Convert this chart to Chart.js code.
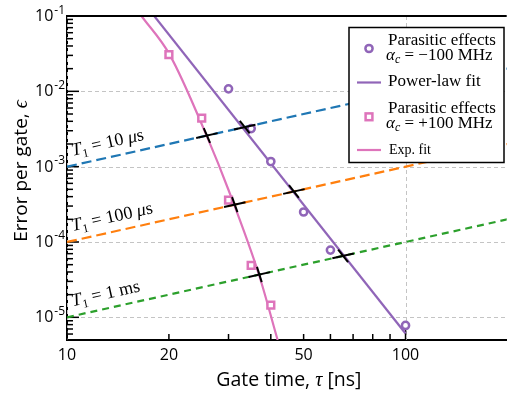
<!DOCTYPE html>
<html>
<head>
<meta charset="utf-8">
<script src="https://cdn.jsdelivr.net/npm/chart.js@4.4.0/dist/chart.umd.min.js"></script>
<style>
html, body { margin: 0; padding: 0; background: #fff; overflow: hidden; }
#wrap { width: 514px; height: 397px; position: relative; }
</style>
</head>
<body>
<div id="wrap"><canvas id="grafico"></canvas></div>
<script>
// pontos simulados
const tempoNeg = [30, 35, 40, 50, 60, 100];
const erroNeg = [1.08e-2, 3.2e-3, 1.17e-3, 2.5e-4, 7.8e-5, 7.8e-6];
const tempoPos = [20, 25, 30, 35, 40];
const erroPos = [3.07e-2, 4.4e-3, 3.6e-4, 4.9e-5, 1.45e-5];

// ajustes
const tempoPotencia = [18.1, 100];
const erroPotencia = [0.1, 6.1e-6];
const tempoExp = [16.6, 20.1, 25.9, 30.0, 37.0, 41.9];
const erroExp = [0.1, 3.07e-2, 2.52e-3, 4.9e-4, 3.54e-5, 5e-6];

// limites de T1
const tempoT1 = [10, 200];
const erroT1_10us = [1e-3, 2e-2];
const erroT1_100us = [1e-4, 2e-3];
const erroT1_1ms = [1e-5, 2e-4];

// cruzamentos (marcas pretas)
const cruzTempo = [25.9, 33.5, 31.3, 46.8, 37.0, 65.4];
const cruzErro = [2.59e-3, 3.35e-3, 3.13e-4, 4.68e-4, 3.7e-5, 6.54e-5];
const cruzInclinacao = [-10.5, -5.7, -12.5, -5.7, -14.5, -5.7];

// eixos
const ticksX = [10, 20, 50, 100];
const ticksY = [1e-5, 1e-4, 1e-3, 1e-2, 1e-1];
const expoentesY = ['-5', '-4', '-3', '-2', '-1'];

const roxo = '#9065b8';
const rosa = '#de74bb';
const azul = '#1f77b4';
const laranja = '#ff7f0e';
const verde = '#2ca02c';

const sans = "'Open Sans', 'DejaVu Sans', sans-serif";
const serif = "'Liberation Serif', 'DejaVu Serif', serif";

function pares(xs, ys) {
    return xs.map((x, i) => ({ x: x, y: ys[i] }));
}

function escreveTrechos(ctx, trechos, x, y, alinhar) {
    let largura = 0;
    trechos.forEach(t => { ctx.font = t[1]; largura += ctx.measureText(t[0]).width; });
    let cx = x;
    if (alinhar === 'center') cx = x - largura / 2;
    if (alinhar === 'right') cx = x - largura;
    ctx.textAlign = 'left';
    ctx.textBaseline = 'alphabetic';
    trechos.forEach(t => {
        ctx.font = t[1];
        ctx.fillText(t[0], cx, y + (t[2] || 0));
        cx += ctx.measureText(t[0]).width;
    });
}

function linha(ctx, x1, y1, x2, y2) {
    ctx.beginPath();
    ctx.moveTo(x1, y1);
    ctx.lineTo(x2, y2);
    ctx.stroke();
}

// grade, ticks para dentro e rótulos
const eixosPlugin = {
    id: 'eixos',
    beforeDatasetsDraw(chart) {
        const { ctx, chartArea: a, scales: { x, y } } = chart;
        ctx.save();
        ctx.strokeStyle = '#c4c4c4';
        ctx.lineWidth = 1;
        ctx.setLineDash([4, 3]);
        ticksY.forEach(v => {
            const py = Math.round(y.getPixelForValue(v)) + 0.5;
            linha(ctx, a.left, py, a.right, py);
        });
        [10, 100].forEach(v => {
            const px = Math.round(x.getPixelForValue(v)) + 0.5;
            linha(ctx, px, a.top, px, a.bottom);
        });
        ctx.setLineDash([]);

        ctx.strokeStyle = '#000';
        ctx.lineWidth = 1.5;
        for (let k = -6; k <= -1; k++) {
            for (let m = 1; m <= 9; m++) {
                const v = m * Math.pow(10, k);
                if (v < y.min || v > y.max) continue;
                const py = y.getPixelForValue(v);
                linha(ctx, a.left, py, a.left + (m === 1 ? 12 : 6), py);
            }
        }
        for (let m = 1; m <= 10; m++) {
            const px = x.getPixelForValue(m * 10);
            linha(ctx, px, a.bottom, px, a.bottom - (m === 1 || m === 10 ? 10 : 6));
        }
        ctx.restore();
    },
    afterDatasetsDraw(chart) {
        const { ctx, chartArea: a, scales: { x, y } } = chart;
        ctx.save();
        // marcas nos cruzamentos
        ctx.strokeStyle = '#000';
        ctx.lineWidth = 2;
        cruzTempo.forEach((t, i) => {
            const e = cruzErro[i];
            const px = x.getPixelForValue(t), py = y.getPixelForValue(e);
            const qx = x.getPixelForValue(t * 1.2) - px, qy = y.getPixelForValue(e * 1.2) - py;
            const n1 = Math.hypot(qx, qy);
            linha(ctx, px - qx / n1 * 11, py - qy / n1 * 11, px + qx / n1 * 11, py + qy / n1 * 11);
            const rx = x.getPixelForValue(t * 1.05) - px;
            const ry = y.getPixelForValue(e * Math.pow(1.05, cruzInclinacao[i])) - py;
            const n2 = Math.hypot(rx, ry);
            linha(ctx, px - rx / n2 * 8, py - ry / n2 * 8, px + rx / n2 * 8, py + ry / n2 * 8);
        });

        // rótulos das retas T1
        const it18 = 'italic 18px ' + serif, rm18 = '18px ' + serif, rm12 = '12px ' + serif;
        const rotulos = [
            [erroT1_10us, [['T', it18], ['1', rm12, 4], [' = 10 ', rm18], ['μ', it18], ['s', rm18]]],
            [erroT1_100us, [['T', it18], ['1', rm12, 4], [' = 100 ', rm18], ['μ', it18], ['s', rm18]]],
            [erroT1_1ms, [['T', it18], ['1', rm12, 4], [' = 1 ms', rm18]]]
        ];
        ctx.fillStyle = '#000';
        rotulos.forEach(r => {
            const x0 = x.getPixelForValue(tempoT1[0]), y0 = y.getPixelForValue(r[0][0]);
            const x1 = x.getPixelForValue(tempoT1[1]), y1 = y.getPixelForValue(r[0][1]);
            ctx.save();
            ctx.translate(x0, y0);
            ctx.rotate(Math.atan2(y1 - y0, x1 - x0));
            escreveTrechos(ctx, r[1], 8, -9.5, 'left');
            ctx.restore();
        });

        // borda de cima
        ctx.strokeStyle = '#000';
        ctx.lineWidth = 2;
        linha(ctx, a.left, a.top, a.right, a.top);

        // rótulos dos ticks
        ctx.fillStyle = '#000';
        ticksY.forEach((v, i) => {
            const py = y.getPixelForValue(v);
            ctx.font = '12px ' + sans;
            const w = ctx.measureText(expoentesY[i]).width;
            escreveTrechos(ctx, [[expoentesY[i], '12px ' + sans]], a.left - 2, py - 2.5, 'right');
            escreveTrechos(ctx, [['10', '16px ' + sans]], a.left - 3 - w, py + 5, 'right');
        });
        ticksX.forEach(v => {
            escreveTrechos(ctx, [[String(v), '16px ' + sans]], x.getPixelForValue(v), a.bottom + 20, 'center');
        });

        // títulos dos eixos
        escreveTrechos(ctx, [['Gate time, ', '19.5px ' + sans], ['τ', 'italic 20px ' + serif], [' [ns]', '19.5px ' + sans]],
            (a.left + a.right) / 2 + 2, 386, 'center');
        ctx.save();
        ctx.translate(27, 171);
        ctx.rotate(-Math.PI / 2);
        escreveTrechos(ctx, [['Error per gate, ', '19px ' + sans], ['ϵ', 'italic 20px ' + serif]], 0, 0, 'center');
        ctx.restore();
        ctx.restore();
    },
    afterDraw(chart) {
        const ctx = chart.ctx;
        ctx.save();
        ctx.fillStyle = '#fff';
        ctx.fillRect(349, 27.5, 155, 135);
        ctx.strokeStyle = '#000';
        ctx.lineWidth = 1.5;
        ctx.strokeRect(349, 27.5, 155, 135);

        // marcadores
        ctx.lineWidth = 2.5;
        ctx.strokeStyle = roxo;
        ctx.beginPath();
        ctx.arc(369, 48.5, 3.6, 0, Math.PI * 2);
        ctx.stroke();
        ctx.strokeStyle = rosa;
        ctx.strokeRect(365.6, 113.4, 6.8, 6.8);
        ctx.lineWidth = 2.2;
        ctx.strokeStyle = roxo;
        linha(ctx, 357, 82.5, 381, 82.5);
        ctx.strokeStyle = rosa;
        linha(ctx, 357, 150, 381, 150);

        const rm17 = '17px ' + serif, it17 = 'italic 17px ' + serif, it12 = 'italic 12px ' + serif;
        ctx.fillStyle = '#000';
        escreveTrechos(ctx, [['Parasitic effects', rm17]], 388, 45, 'left');
        escreveTrechos(ctx, [['α', it17], ['c', it12, 3], [' = −100 MHz', rm17]], 386, 60, 'left');
        escreveTrechos(ctx, [['Power-law fit', rm17]], 388, 86, 'left');
        escreveTrechos(ctx, [['Parasitic effects', rm17]], 388, 112.5, 'left');
        escreveTrechos(ctx, [['α', it17], ['c', it12, 3], [' = +100 MHz', rm17]], 386, 128, 'left');
        escreveTrechos(ctx, [['Exp. fit', '14px ' + serif]], 389, 153.5, 'left');
        ctx.restore();
    }
};

const ctx = document.getElementById('grafico').getContext('2d');
new Chart(ctx, {
    type: 'scatter',
    data: {
        datasets: [
            {
                label: 'Parasitic effects αc = −100 MHz',
                data: pares(tempoNeg, erroNeg),
                pointStyle: 'circle',
                pointRadius: 3.6,
                borderWidth: 2.5,
                borderColor: roxo,
                backgroundColor: '#fff'
            },
            {
                label: 'Parasitic effects αc = +100 MHz',
                data: pares(tempoPos, erroPos),
                pointStyle: 'rect',
                pointRadius: 4.8,
                borderWidth: 2.5,
                borderColor: rosa,
                backgroundColor: '#fff'
            },
            {
                label: 'Power-law fit',
                data: pares(tempoPotencia, erroPotencia),
                showLine: true,
                pointRadius: 0,
                borderWidth: 2.2,
                borderColor: roxo
            },
            {
                label: 'Exp. fit',
                data: pares(tempoExp, erroExp),
                showLine: true,
                cubicInterpolationMode: 'monotone',
                pointRadius: 0,
                borderWidth: 2.2,
                borderColor: rosa
            },
            {
                label: 'T1 = 10 us',
                data: pares(tempoT1, erroT1_10us),
                showLine: true,
                pointRadius: 0,
                borderWidth: 2.2,
                borderDash: [10, 5],
                borderColor: azul
            },
            {
                label: 'T1 = 100 us',
                data: pares(tempoT1, erroT1_100us),
                showLine: true,
                pointRadius: 0,
                borderWidth: 2.2,
                borderDash: [10, 5],
                borderColor: laranja
            },
            {
                label: 'T1 = 1 ms',
                data: pares(tempoT1, erroT1_1ms),
                showLine: true,
                pointRadius: 0,
                borderWidth: 2.2,
                borderDash: [7, 5],
                borderColor: verde
            }
        ]
    },
    options: {
        responsive: true,
        maintainAspectRatio: false,
        animation: false,
        events: [],
        layout: { padding: { top: 16, right: 0, bottom: 0, left: 0 } },
        plugins: {
            legend: { display: false },
            tooltip: { enabled: false }
        },
        scales: {
            x: {
                type: 'logarithmic',
                min: 10,
                max: 199,
                grid: { display: false },
                ticks: { display: false },
                border: { display: true, color: '#000', width: 2 },
                afterFit: s => { s.height = 57; }
            },
            y: {
                type: 'logarithmic',
                min: 5e-6,
                max: 0.1,
                grid: { display: false },
                ticks: { display: false },
                border: { display: true, color: '#000', width: 2 },
                afterFit: s => { s.width = 67; }
            }
        }
    },
    plugins: [eixosPlugin]
});
</script>
</body>
</html>
